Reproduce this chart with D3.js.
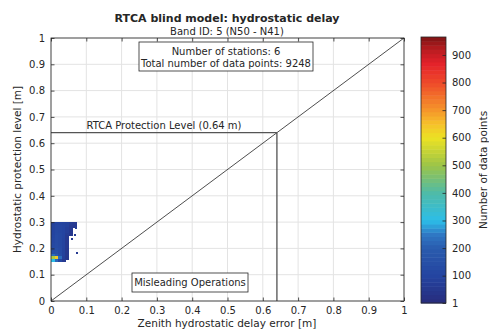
<!DOCTYPE html>
<html>
<head>
<meta charset="utf-8">
<script src="https://cdn.jsdelivr.net/npm/d3@7"></script>
<style>
  body { margin: 0; background: #fff; }
  text { font-family: "DejaVu Sans", sans-serif; fill: #262626; }
</style>
</head>
<body>
<div id="d3"></div>
<script>
// axis ticks
const xTicks = [0, 0.1, 0.2, 0.3, 0.4, 0.5, 0.6, 0.7, 0.8, 0.9, 1];
const yTicks = [0, 0.1, 0.2, 0.3, 0.4, 0.5, 0.6, 0.7, 0.8, 0.9, 1];
const cbTicks = [1, 100, 200, 300, 400, 500, 600, 700, 800, 900];
const cbMax = 965;

// protection level
const protectionLevel = 0.64;

// 2D histogram: x bin starts, y bin starts (top row first), counts
const xBins = [0, 0.01, 0.02, 0.03, 0.04, 0.05, 0.06];
const yBins = [0.29, 0.28, 0.27, 0.26, 0.25, 0.24, 0.23, 0.22, 0.21, 0.20, 0.19, 0.18, 0.17, 0.16, 0.15];
const binSize = 0.01;
const counts = [
  [90, 100, 100, 95, 90, 70, 60],
  [95, 110, 110, 100, 90, 60, 55],
  [95, 110, 110, 100, 80, 60, 0],
  [100, 115, 110, 100, 80, 55, 0],
  [100, 120, 115, 100, 70, 50, 0],
  [105, 125, 115, 100, 60, 0, 0],
  [110, 125, 115, 95, 55, 0, 0],
  [110, 125, 115, 95, 55, 0, 0],
  [115, 130, 115, 95, 55, 0, 0],
  [120, 130, 120, 95, 55, 0, 0],
  [130, 140, 125, 90, 50, 0, 0],
  [140, 150, 125, 90, 50, 0, 0],
  [230, 190, 135, 90, 50, 0, 0],
  [520, 640, 230, 80, 45, 0, 0],
  [300, 220, 110, 60, 0, 0, 0]
];
// a few isolated bins right of the cluster [x, y, count]
const strays = [[0.068, 0.275, 70], [0.064, 0.25, 65], [0.07, 0.18, 60], [0.057, 0.235, 60]];

// colormap stops
const cmapValues = [1, 100, 200, 250, 300, 400, 500, 600, 650, 700, 800, 870, 920, 965];
const cmapColors = ["#282c7c", "#2444a0", "#2a5cae", "#2f78c4", "#2cbde8", "#4fbba8", "#9cc448",
  "#ece224", "#f6c12a", "#f5962a", "#ee4a2a", "#e4212a", "#b81c20", "#7e1414"];

function drawChart() {
  const width = 489, height = 330;
  const svg = d3.select("#d3").append("svg")
    .attr("width", width)
    .attr("height", height);

  const x = d3.scaleLinear().domain([0, 1]).range([51, 404]);
  const y = d3.scaleLinear().domain([0, 1]).range([301, 38]);
  const color = d3.scaleLinear().domain(cmapValues).range(cmapColors).clamp(true);

  const g = svg.append("g");

  // grid
  g.append("g").selectAll("line").data(xTicks).join("line")
    .attr("x1", d => x(d)).attr("x2", d => x(d))
    .attr("y1", y(0)).attr("y2", y(1))
    .attr("stroke", "#e3e3e3").attr("stroke-width", 1);
  g.append("g").selectAll("line").data(yTicks).join("line")
    .attr("x1", x(0)).attr("x2", x(1))
    .attr("y1", d => y(d)).attr("y2", d => y(d))
    .attr("stroke", "#e3e3e3").attr("stroke-width", 1);

  // histogram cells
  const cells = [];
  yBins.forEach((yb, i) => xBins.forEach((xb, j) => {
    if (counts[i][j] > 0) cells.push({ x: xb, y: yb, w: binSize, h: binSize, v: counts[i][j] });
  }));
  strays.forEach(s => cells.push({ x: s[0], y: s[1], w: 0.004, h: 0.006, v: s[2] }));
  g.append("g").attr("shape-rendering", "crispEdges")
    .selectAll("rect").data(cells).join("rect")
    .attr("x", d => x(d.x))
    .attr("y", d => y(d.y + d.h))
    .attr("width", d => x(d.w) - x(0) + 0.8)
    .attr("height", d => y(0) - y(d.h) + 0.8)
    .attr("fill", d => color(d.v));

  // 1:1 line and protection level lines
  g.append("line")
    .attr("x1", x(0)).attr("y1", y(0)).attr("x2", x(1)).attr("y2", y(1))
    .attr("stroke", "#3a3a3a").attr("stroke-width", 0.9);
  g.append("line")
    .attr("x1", x(0)).attr("y1", y(protectionLevel)).attr("x2", x(protectionLevel)).attr("y2", y(protectionLevel))
    .attr("stroke", "#555").attr("stroke-width", 1.2);
  g.append("line")
    .attr("x1", x(protectionLevel)).attr("y1", y(protectionLevel)).attr("x2", x(protectionLevel)).attr("y2", y(0))
    .attr("stroke", "#444").attr("stroke-width", 1.2);

  g.append("text")
    .attr("x", x(0.32)).attr("y", y(protectionLevel) - 4)
    .attr("text-anchor", "middle").attr("font-size", "10px")
    .text("RTCA Protection Level (0.64 m)");

  // axes (MATLAB style: ticks inside, box on)
  const tickLen = 3.5;
  const axisColor = "#262626";
  g.append("rect")
    .attr("x", x(0)).attr("y", y(1))
    .attr("width", x(1) - x(0)).attr("height", y(0) - y(1))
    .attr("fill", "none").attr("stroke", axisColor).attr("stroke-width", 0.8);

  const xb = d3.axisBottom(x).tickValues(xTicks).tickSize(-tickLen).tickPadding(6).tickFormat(d3.format("~g"));
  const xt = d3.axisTop(x).tickValues(xTicks).tickSize(-tickLen).tickFormat("");
  const yl = d3.axisLeft(y).tickValues(yTicks).tickSize(-tickLen).tickPadding(6).tickFormat(d3.format("~g"));
  const yr = d3.axisRight(y).tickValues(yTicks).tickSize(-tickLen).tickFormat("");

  [[xb, `translate(0,${y(0)})`], [xt, `translate(0,${y(1)})`],
   [yl, `translate(${x(0)},0)`], [yr, `translate(${x(1)},0)`]].forEach(([ax, tr]) => {
    const a = g.append("g").attr("transform", tr).call(ax);
    a.select(".domain").remove();
    a.selectAll("line").attr("stroke", axisColor).attr("stroke-width", 0.8);
    a.selectAll("text").attr("font-size", "10px").attr("font-family", "DejaVu Sans").attr("fill", axisColor);
  });

  // info box
  const info = g.append("g");
  info.append("rect")
    .attr("x", 139).attr("y", 42).attr("width", 174).attr("height", 29)
    .attr("fill", "#fff").attr("stroke", "#262626").attr("stroke-width", 0.8);
  info.append("text").attr("x", 226).attr("y", 55).attr("text-anchor", "middle")
    .attr("font-size", "10px").text("Number of stations: 6");
  info.append("text").attr("x", 226).attr("y", 67).attr("text-anchor", "middle")
    .attr("font-size", "10px").text("Total number of data points: 9248");

  // misleading operations box
  g.append("rect")
    .attr("x", 132).attr("y", 273).attr("width", 116).attr("height", 19)
    .attr("fill", "#fff").attr("stroke", "#262626").attr("stroke-width", 0.8);
  g.append("text").attr("x", 190).attr("y", 286).attr("text-anchor", "middle")
    .attr("font-size", "10px").text("Misleading Operations");

  // titles and labels
  svg.append("text").attr("x", 227).attr("y", 22).attr("text-anchor", "middle")
    .attr("font-size", "11px").attr("font-weight", "bold")
    .text("RTCA blind model: hydrostatic delay");
  svg.append("text").attr("x", 227).attr("y", 35).attr("text-anchor", "middle")
    .attr("font-size", "10px").text("Band ID: 5 (N50 - N41)");
  svg.append("text").attr("x", 227).attr("y", 327).attr("text-anchor", "middle")
    .attr("font-size", "10.5px").text("Zenith hydrostatic delay error [m]");
  svg.append("text").attr("transform", `translate(21,${(y(0) + y(1)) / 2}) rotate(-90)`)
    .attr("text-anchor", "middle").attr("font-size", "10.5px")
    .text("Hydrostatic protection level [m]");

  // colorbar
  const cb = d3.scaleLinear().domain([1, cbMax]).range([303, 37]);
  const cbX = 421, cbW = 25;
  const bands = d3.range(64).map(i => 1 + i * (cbMax - 1) / 64);
  const step = (cbMax - 1) / 64;
  svg.append("g").selectAll("rect").data(bands).join("rect")
    .attr("x", cbX).attr("width", cbW)
    .attr("y", d => cb(d + step))
    .attr("height", d => cb(d) - cb(d + step) + 0.5)
    .attr("fill", d => color(d + step / 2));
  svg.append("rect")
    .attr("x", cbX).attr("y", cb(cbMax)).attr("width", cbW).attr("height", cb(1) - cb(cbMax))
    .attr("fill", "none").attr("stroke", "#262626").attr("stroke-width", 0.8);
  const cbAxis = svg.append("g").attr("transform", `translate(${cbX + cbW},0)`)
    .call(d3.axisRight(cb).tickValues(cbTicks).tickSize(-tickLen).tickPadding(6));
  cbAxis.select(".domain").remove();
  cbAxis.selectAll("line").attr("stroke", "#262626").attr("stroke-width", 0.8);
  cbAxis.selectAll("text").attr("font-size", "10px").attr("font-family", "DejaVu Sans").attr("fill", "#262626");
  svg.append("text").attr("transform", `translate(486.5,170) rotate(-90)`)
    .attr("text-anchor", "middle").attr("font-size", "10.5px")
    .text("Number of data points");
}

drawChart();
</script>
</body>
</html>
